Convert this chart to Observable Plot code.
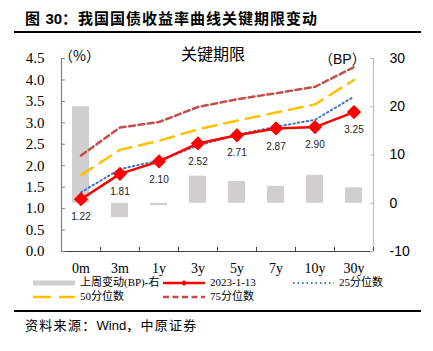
<!DOCTYPE html>
<html><head><meta charset="utf-8">
<script src="https://cdn.jsdelivr.net/npm/d3@7"></script>
<script src="https://cdn.jsdelivr.net/npm/@observablehq/plot@0.6"></script>
<style>
body{margin:0;width:433px;height:351px;position:relative;background:#fff;font-family:"Noto Sans CJK SC",sans-serif;overflow:hidden;color:#000}
.abs{position:absolute;white-space:nowrap;line-height:1}
.rule{position:absolute;left:14px;width:407px;height:2px;background:#000}
.leg{position:absolute;font-family:"Liberation Serif","Noto Sans CJK SC",serif;font-size:11px;line-height:1;white-space:nowrap}
</style></head><body>
<div id="chart" class="abs" style="left:0;top:0"></div>
<div class="abs" style="left:25px;top:10px;font-size:15px;font-weight:bold;letter-spacing:1px">图 <span style="font-family:'Liberation Sans',sans-serif;letter-spacing:0">30</span>：我国国债收益率曲线关键期限变动</div>
<div class="rule" style="top:31px"></div>
<div class="abs" style="left:181px;top:45px;font-size:16px">关键期限</div>
<div class="abs" style="left:59px;top:48px;font-size:14px">（%）</div>
<div class="abs" style="left:319px;top:52px;font-size:14px;font-family:'Liberation Sans','Noto Sans CJK SC',sans-serif">（BP）</div>
<div id="legend"></div>
<div class="rule" style="top:310px"></div>
<div class="abs" style="left:25px;top:318px;font-size:13px;letter-spacing:1.3px">资料来源：<span style="font-family:'Liberation Sans',sans-serif;letter-spacing:0">Wind</span>，中原证券</div>
<script>
const tenors = ["0m","3m","1y","3y","5y","7y","10y","30y"];
const current = [1.22,1.81,2.10,2.52,2.71,2.87,2.90,3.25];
const p25 = [1.38,1.92,2.12,2.47,2.72,2.91,3.07,3.61];
const p50 = [1.78,2.37,2.58,2.85,3.05,3.24,3.43,4.00];
const p75 = [2.24,2.89,3.02,3.37,3.55,3.69,3.84,4.30];
const weekChange = [20,-3,-0.5,5.6,4.5,3.5,5.8,3.2];
const leftTicks = [0,0.5,1,1.5,2,2.5,3,3.5,4,4.5];
const rightTicks = [-10,0,10,20,30];

// right axis (BP, -10..30) mapped onto the left axis (%, 0..4.5)
const toPct = bp => (bp + 10) * 4.5 / 40;
const toBp = p => Math.round(p * 40 / 4.5 - 10);

const rows = tenors.map((t, i) => ({tenor: t, cur: current[i], p25: p25[i], p50: p50[i], p75: p75[i], chg: weekChange[i]}));

const W = 433, H = 351, mL = 61, mR = 60;
const bw = (W - mL - mR) / tenors.length;
const serif = "Liberation Serif, Times New Roman, serif";

const chart = Plot.plot({
  width: W, height: H,
  marginLeft: mL, marginRight: mR, marginTop: 58, marginBottom: 100,
  style: {background: "transparent", overflow: "visible"},
  x: {type: "band", domain: tenors, padding: 0, label: null},
  y: {domain: [0, 4.5], label: null},
  marks: [
    Plot.barY(rows, {x: "tenor", y1: () => toPct(0), y2: d => toPct(d.chg), fill: "#d0cece", insetLeft: 11, insetRight: 11}),
    // axis lines
    Plot.ruleX([tenors[0]], {dx: -bw / 2, y1: 0, y2: 4.5, stroke: "#808080", strokeWidth: 1.2}),
    Plot.ruleX([tenors[tenors.length - 1]], {dx: bw / 2, y1: 0, y2: 4.5, stroke: "#bfbfbf", strokeWidth: 1.2}),
    Plot.ruleY([0], {stroke: "#404040", strokeWidth: 1.2}),
    // left axis
    Plot.axisY(leftTicks, {anchor: "left", tickSize: 4, dx: 4, fill: "none", stroke: "#808080"}),
    Plot.axisY(leftTicks, {anchor: "left", tickSize: 0, tickPadding: 17, tickFormat: d3.format(".1f"), fontFamily: serif, fontSize: 15, fill: "#000"}),
    // right axis
    Plot.axisY(rightTicks.map(toPct), {anchor: "right", tickSize: 4, dx: -4, fill: "none", stroke: "#bfbfbf"}),
    Plot.axisY(rightTicks.map(toPct), {anchor: "right", tickSize: 0, tickPadding: 16, tickFormat: toBp, fontFamily: "Liberation Sans, Arial, sans-serif", fontSize: 14, fill: "#000"}),
    // x axis
    Plot.axisX(tenors, {anchor: "bottom", tickSize: 4, dx: bw / 2, dy: -4, fill: "none", stroke: "#404040"}),
    Plot.axisX(tenors, {anchor: "bottom", tickSize: 0, tickPadding: 12, fontFamily: serif, fontSize: 14, fill: "#000"}),
    // lines
    Plot.line(rows, {x: "tenor", y: "p75", stroke: "#c0504d", strokeWidth: 2.5, strokeDasharray: "6,3.5"}),
    Plot.line(rows, {x: "tenor", y: "p50", stroke: "#ffc000", strokeWidth: 2.5, strokeDasharray: "14,8"}),
    Plot.line(rows, {x: "tenor", y: "p25", stroke: "#4472c4", strokeWidth: 2, strokeDasharray: "1.5,3"}),
    Plot.line(rows, {x: "tenor", y: "cur", stroke: "#ff0000", strokeWidth: 2.5}),
    Plot.dot(rows, {x: "tenor", y: "cur", symbol: "diamond2", r: 5.5, fill: "#ff0000", stroke: "#ff0000"}),
    Plot.text(rows, {x: "tenor", y: "cur", text: d => d.cur.toFixed(2), dy: 18, fontSize: 10, fontFamily: "Liberation Sans, Arial, sans-serif", fill: "#222"})
  ]
});
document.getElementById("chart").appendChild(chart);

// legend
const legendItems = [
  {label: "上周变动(BP)-右", x: 33, y: 283, kind: "bar"},
  {label: "2023-1-13", x: 163, y: 283, kind: "cur"},
  {label: "25分位数", x: 293, y: 283, kind: "p25"},
  {label: "50分位数", x: 33, y: 297, kind: "p50"},
  {label: "75分位数", x: 163, y: 297, kind: "p75"}
];
const leg = document.getElementById("legend");
for (const it of legendItems) {
  const sw = it.kind === "p25" ? 41 : 42;
  let svg = `<svg width="${sw}" height="10" style="position:absolute;left:${it.x}px;top:${it.y - 5}px;overflow:visible">`;
  if (it.kind === "bar") svg += `<rect x="0" y="2.5" width="42" height="5" fill="#d0cece"/>`;
  if (it.kind === "cur") svg += `<line x1="0" y1="5" x2="42" y2="5" stroke="#ff0000" stroke-width="2.5"/><path d="M21,2 L24,5 L21,8 L18,5Z" fill="#ff0000"/>`;
  if (it.kind === "p25") svg += `<line x1="0" y1="5" x2="41" y2="5" stroke="#4472c4" stroke-width="1.8" stroke-dasharray="1.5,3"/>`;
  if (it.kind === "p50") svg += `<line x1="0" y1="5" x2="42" y2="5" stroke="#ffc000" stroke-width="2.5" stroke-dasharray="18,8"/>`;
  if (it.kind === "p75") svg += `<line x1="0" y1="5" x2="42" y2="5" stroke="#c0504d" stroke-width="2.5" stroke-dasharray="6,3.5"/>`;
  svg += `</svg>`;
  leg.insertAdjacentHTML("beforeend", svg);
  leg.insertAdjacentHTML("beforeend", `<div class="leg" style="left:${it.x + (it.kind === "p25" ? 46 : 47)}px;top:${it.y - 6}px">${it.label}</div>`);
}
</script>
</body></html>
